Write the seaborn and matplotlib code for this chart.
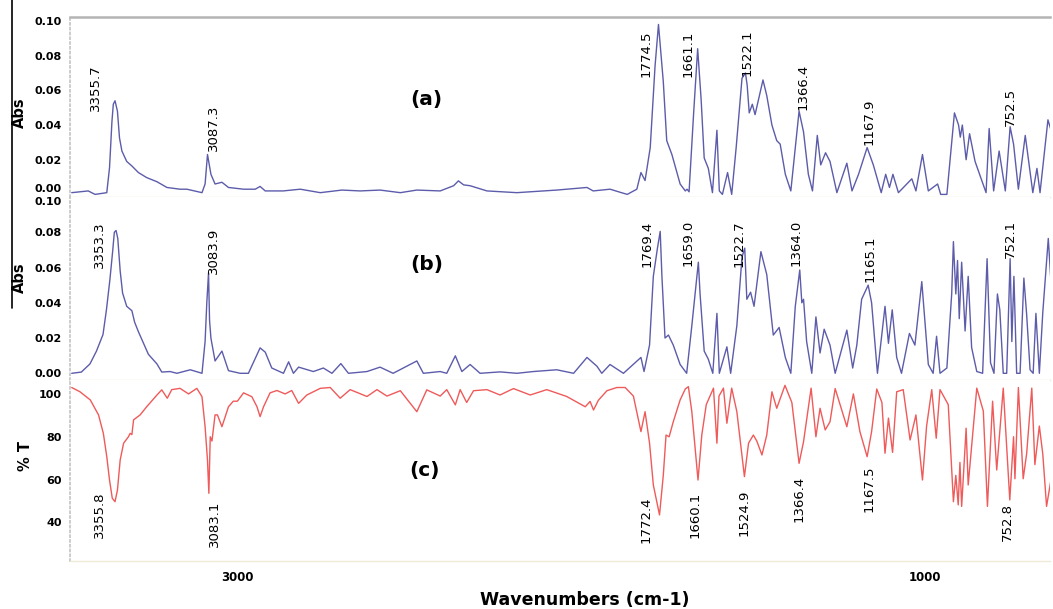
import matplotlib
matplotlib.use("Agg")
import matplotlib.pyplot as plt
from matplotlib.lines import Line2D
from matplotlib.ticker import MultipleLocator
import seaborn as sns

# spectra (wavenumber in cm-1)
wn_a = [3482, 3434, 3414, 3380, 3372, 3365, 3361, 3356, 3349, 3343, 3336, 3322, 3307, 3288, 3264,
        3234, 3205, 3167, 3147, 3103, 3094, 3087, 3077, 3065, 3045, 3026, 2982, 2948, 2934, 2919,
        2867, 2817, 2759, 2696, 2643, 2585, 2526, 2478, 2410, 2371, 2357, 2342, 2323, 2274, 2187,
        2071, 1983, 1965, 1916, 1866, 1838, 1826, 1814, 1799, 1785, 1775, 1761, 1751, 1736, 1712,
        1697, 1692, 1686, 1673, 1661, 1651, 1642, 1630, 1618, 1605, 1598, 1589, 1574, 1562, 1549,
        1532, 1522, 1517, 1511, 1502, 1494, 1471, 1460, 1445, 1431, 1421, 1406, 1390, 1377, 1366,
        1353, 1339, 1327, 1313, 1303, 1289, 1276, 1256, 1227, 1212, 1193, 1168, 1150, 1127, 1114,
        1103, 1093, 1077, 1038, 1026, 1007, 990, 963, 954, 936, 914, 902, 897, 891, 880,
        870, 854, 822, 813, 800, 784, 766, 752, 742, 728, 708, 686, 674, 665, 642, 630]
abs_a = [0.001, 0.002, 0.000, 0.001, 0.0154, 0.042, 0.052, 0.054, 0.048, 0.0326, 0.025, 0.019, 0.0164, 0.0126, 0.0097,
         0.0073, 0.004, 0.003, 0.003, 0.001, 0.006, 0.023, 0.0116, 0.006, 0.007, 0.004, 0.003, 0.003, 0.0046, 0.002,
         0.002, 0.003, 0.001, 0.0025, 0.002, 0.0025, 0.001, 0.0025, 0.002, 0.005, 0.0078, 0.0055, 0.005, 0.002, 0.001,
         0.0025, 0.004, 0.002, 0.003, 0.000, 0.003, 0.0126, 0.008, 0.027, 0.074, 0.098, 0.065, 0.031, 0.023, 0.006,
         0.002, 0.003, 0.0015, 0.046, 0.084, 0.055, 0.021, 0.015, 0.001, 0.037, 0.002, 0.000, 0.0126, 0.000, 0.027,
         0.067, 0.070, 0.063, 0.047, 0.052, 0.046, 0.066, 0.057, 0.040, 0.031, 0.029, 0.0116, 0.002, 0.027, 0.048,
         0.036, 0.0116, 0.002, 0.034, 0.017, 0.024, 0.019, 0.001, 0.018, 0.002, 0.0116, 0.027, 0.017, 0.001, 0.0116,
         0.004, 0.0116, 0.001, 0.009, 0.002, 0.023, 0.002, 0.006, 0.000, 0.000, 0.047, 0.040, 0.033, 0.040, 0.020,
         0.035, 0.019, 0.001, 0.038, 0.002, 0.025, 0.002, 0.039, 0.029, 0.003, 0.034, 0.001, 0.015, 0.001, 0.043, 0.035]

wn_b = [3482, 3454, 3429, 3410, 3391, 3381, 3371, 3363, 3358, 3353, 3348, 3341, 3334, 3322, 3307,
        3299, 3288, 3273, 3259, 3234, 3220, 3196, 3176, 3137, 3103, 3094, 3089, 3084, 3081, 3077,
        3065, 3045, 3026, 2992, 2968, 2934, 2919, 2900, 2866, 2851, 2837, 2822, 2779, 2750, 2725,
        2699, 2677, 2623, 2585, 2547, 2478, 2459, 2410, 2391, 2366, 2347, 2323, 2294, 2236, 2187,
        2139, 2071, 2022, 1983, 1954, 1940, 1916, 1877, 1826, 1817, 1801, 1790, 1778, 1770, 1765,
        1756, 1746, 1732, 1712, 1693, 1678, 1659, 1654, 1642, 1630, 1617, 1605, 1598, 1576, 1565,
        1547, 1532, 1524, 1518, 1507, 1497, 1477, 1460, 1441, 1424, 1406, 1390, 1377, 1364, 1358,
        1353, 1344, 1329, 1317, 1305, 1293, 1276, 1261, 1227, 1210, 1198, 1184, 1165, 1155, 1138,
        1116, 1106, 1095, 1082, 1068, 1045, 1029, 1009, 990, 976, 966, 956, 936, 922, 917,
        910, 905, 900, 893, 883, 874, 864, 849, 832, 819, 809, 799, 789, 782, 772,
        762, 752, 747, 741, 733, 723, 712, 704, 694, 685, 677, 667, 657, 641, 631]
abs_b = [0.000, 0.0007, 0.0053, 0.0126, 0.022, 0.036, 0.053, 0.069, 0.080, 0.081, 0.0765, 0.058, 0.0455, 0.038, 0.0355,
         0.029, 0.0236, 0.017, 0.0108, 0.0053, 0.0007, 0.001, 0.000, 0.002, 0.000, 0.018, 0.040, 0.057, 0.030, 0.0199,
         0.007, 0.0126, 0.0015, 0.000, 0.000, 0.0144, 0.012, 0.003, 0.000, 0.0065, 0.000, 0.0035, 0.001, 0.003, 0.000,
         0.0055, 0.000, 0.001, 0.0035, 0.000, 0.007, 0.000, 0.001, 0.000, 0.0099, 0.001, 0.005, 0.000, 0.0008, 0.000,
         0.001, 0.002, 0.000, 0.009, 0.004, 0.000, 0.005, 0.000, 0.009, 0.001, 0.016, 0.055, 0.071, 0.0805, 0.055,
         0.020, 0.0217, 0.016, 0.005, 0.000, 0.027, 0.063, 0.045, 0.0126, 0.008, 0.000, 0.034, 0.000, 0.015, 0.000,
         0.027, 0.066, 0.071, 0.042, 0.046, 0.038, 0.069, 0.056, 0.0217, 0.026, 0.009, 0.000, 0.038, 0.0586, 0.040,
         0.042, 0.018, 0.000, 0.032, 0.0115, 0.025, 0.016, 0.000, 0.0245, 0.003, 0.016, 0.042, 0.050, 0.040, 0.000,
         0.038, 0.017, 0.036, 0.009, 0.000, 0.0226, 0.016, 0.052, 0.005, 0.000, 0.021, 0.000, 0.003, 0.045, 0.0747,
         0.045, 0.064, 0.031, 0.063, 0.024, 0.055, 0.0146, 0.001, 0.000, 0.065, 0.006, 0.000, 0.045, 0.036, 0.000,
         0.000, 0.065, 0.018, 0.055, 0.000, 0.000, 0.054, 0.0335, 0.002, 0.000, 0.034, 0.000, 0.0345, 0.0765, 0.045]

wn_c = [3482, 3458, 3428, 3404, 3390, 3380, 3372, 3364, 3356, 3349, 3341, 3331, 3317, 3312, 3307,
        3302, 3283, 3264, 3234, 3220, 3204, 3191, 3167, 3142, 3118, 3103, 3094, 3087, 3083, 3079,
        3074, 3065, 3058, 3045, 3026, 3012, 3000, 2982, 2958, 2943, 2934, 2924, 2905, 2885, 2861,
        2842, 2822, 2798, 2759, 2730, 2701, 2672, 2623, 2594, 2565, 2526, 2478, 2449, 2410, 2391,
        2366, 2352, 2333, 2313, 2274, 2236, 2197, 2148, 2100, 2042, 1988, 1974, 1964, 1950, 1925,
        1896, 1872, 1848, 1826, 1814, 1801, 1790, 1772, 1761, 1753, 1744, 1732, 1712, 1697, 1688,
        1678, 1660, 1649, 1636, 1625, 1615, 1605, 1599, 1586, 1576, 1562, 1547, 1525, 1513, 1499,
        1489, 1474, 1460, 1445, 1431, 1407, 1387, 1366, 1353, 1331, 1317, 1305, 1290, 1276, 1261,
        1227, 1208, 1189, 1168, 1155, 1140, 1125, 1116, 1106, 1094, 1082, 1063, 1043, 1026, 1007,
        995, 980, 967, 956, 932, 917, 910, 903, 898, 893, 880, 874, 849, 830, 818,
        803, 791, 772, 753, 742, 738, 728, 714, 704, 689, 680, 667, 657, 646, 631]
trans_c = [103, 101, 97.2, 90.2, 81.6, 70.7, 59.8, 51.3, 49.7, 55.1, 69.2, 77, 80, 81.6, 81,
           87.9, 90.2, 94, 99.5, 101.9, 98, 102, 102.6, 100, 102.6, 98.7, 84.7, 69, 53.6, 80,
           78, 90.2, 90.2, 84.7, 94, 96.6, 96.6, 100.5, 98.7, 94, 89.4, 94, 100.5, 101.6, 100,
           101.6, 95.6, 99.5, 102.6, 103, 98, 102, 98.8, 102, 99, 101.5, 91.7, 101.9, 99, 102,
           94.9, 102, 96, 101.5, 102, 99.5, 102.5, 99.5, 102, 98.8, 94, 96.5, 92.5, 97, 101.5,
           103, 103, 99, 82.4, 91.7, 77, 57.5, 43.5, 62, 80.8, 80, 87, 97.2, 102.3, 103.4,
           91.7, 59.8, 80.8, 95, 99, 102.7, 77, 99, 102.7, 86.3, 102.7, 91.7, 61.4, 77, 80.8,
           78, 71.5, 80.8, 101, 93.3, 104, 96, 67.6, 77.7, 102.7, 80, 93.3, 83.2, 87, 102.5,
           84.7, 100, 82.4, 70.7, 82.4, 102.3, 96, 72.3, 88.7, 72.7, 101, 102, 78.5, 90.2, 59.8,
           85, 102, 79.3, 102, 95, 49.7, 62, 48.2, 68, 47.5, 84, 57.5, 102.7, 92, 47.5,
           96.6, 64.5, 102.7, 50.5, 80, 60.4, 103, 60.4, 72, 102.7, 67, 85, 72, 47.5, 62]

# peak labels
labels_a = ["3355.7", "3087.3", "1774.5", "1661.1", "1522.1", "1366.4", "1167.9", "752.5"]
peaks_a = [3356, 3087, 1775, 1661, 1522, 1366, 1168, 752]
labels_b = ["3353.3", "3083.9", "1769.4", "1659.0", "1522.7", "1364.0", "1165.1", "752.1"]
peaks_b = [3353, 3084, 1770, 1659, 1524, 1364, 1165, 752]
labels_c = ["3355.8", "3083.1", "1772.4", "1660.1", "1524.9", "1366.4", "1167.5", "752.8"]
peaks_c = [3356, 3083, 1772, 1660, 1525, 1366, 1168, 753]

# label offsets from the peak tip, in pixels
off_a = [(-20, -10), (6, 4), (-12, -53), (-10, -28), (2, -3), (4, 1), (2, 3), (0, 1)]
off_b = [(-17, -38), (5, -1), (-13, -36), (-10, -4), (-6, -19), (-4, 4), (2, 3), (0, 1)]
off_c = [(-16, 10), (6, -7), (-13, 18), (-3, -12), (0, -13), (0, -12), (2, -9), (-2, -3)]

sns.set_style("white")
plt.rcParams['font.family'] = ['DejaVu Sans']
plt.rcParams['text.color'] = 'black'
plt.rcParams['axes.labelcolor'] = 'black'
plt.rcParams['xtick.labelcolor'] = 'black'
plt.rcParams['ytick.labelcolor'] = 'black'

BLUE = '#5c5cab'
RED = '#ef5a5a'
W, H = 1053, 609


def rect(l, t, r, b):
    return [l / W, 1 - b / H, (r - l) / W, (b - t) / H]


fig = plt.figure(figsize=(W / 100, H / 100), dpi=100)
ax_a = fig.add_axes(rect(70, 17, 1050, 197))
ax_b = fig.add_axes(rect(70, 197, 1050, 380))
ax_c = fig.add_axes(rect(70, 380, 1050, 561))

sns.lineplot(x=wn_a, y=abs_a, ax=ax_a, color=BLUE, linewidth=1.0, sort=False, estimator=None)
sns.lineplot(x=wn_b, y=abs_b, ax=ax_b, color=BLUE, linewidth=1.0, sort=False, estimator=None)
sns.lineplot(x=wn_c, y=trans_c, ax=ax_c, color=RED, linewidth=1.0, sort=False, estimator=None)

ax_a.set_ylim(-0.0015, 0.1023)
ax_b.set_ylim(-0.0038, 0.100)
ax_c.set_ylim(22.0, 106.5)

for ax in (ax_a, ax_b, ax_c):
    ax.set_xlim(3487, 636)
    ax.set_facecolor('white')
    ax.spines['right'].set_visible(False)
    ax.spines['top'].set_visible(False)
    ax.spines['left'].set_color('#c8c8c8')
    ax.spines['left'].set_linestyle(':')
    ax.spines['left'].set_linewidth(1.3)
    ax.spines['bottom'].set_color('#eeead6')
    ax.spines['bottom'].set_linewidth(1.0)
    ax.tick_params(axis='y', which='major', length=3, width=0.9, color='#999999',
                   labelsize=8, pad=3, direction='out')
    ax.tick_params(axis='y', which='minor', length=1.5, width=1.0, color='#bbbbbb', direction='out')
    ax.set_ylabel("")
    ax.set_xlabel("")

ax_a.spines['top'].set_visible(True)
ax_a.spines['top'].set_color('#b4b4b4')
ax_a.spines['top'].set_linewidth(1.8)

for ax in (ax_a, ax_b):
    ax.set_yticks([0.0, 0.02, 0.04, 0.06, 0.08, 0.10])
    ax.set_yticklabels(["0.00", "0.02", "0.04", "0.06", "0.08", "0.10"])
    ax.yaxis.set_minor_locator(MultipleLocator(0.005))
    ax.set_xticks([])
    ax.tick_params(axis='x', which='both', bottom=False, labelbottom=False)

ax_c.set_yticks([40, 60, 80, 100])
ax_c.set_yticklabels(["40", "60", "80", "100"])
ax_c.yaxis.set_minor_locator(MultipleLocator(5))
ax_c.set_xticks([3000, 1000])
ax_c.set_xticklabels(["3000", "1000"])
ax_c.xaxis.set_minor_locator(MultipleLocator(100))
ax_c.tick_params(axis='x', which='major', length=2.5, width=1.6, color='#888888',
                 labelsize=8.5, pad=6, direction='inout')
ax_c.tick_params(axis='x', which='minor', length=2, width=1.4, color='#aaaaaa', direction='inout')

for ax in (ax_a, ax_b, ax_c):
    for lab in ax.get_yticklabels() + ax.get_xticklabels():
        lab.set_fontweight('bold')
        lab.set_color('black')

# keep the touching 0.00 / 0.10 labels apart
ax_a.get_yticklabels()[0].set_va('bottom')
ax_b.get_yticklabels()[-1].set_va('top')

ax_a.set_ylabel("Abs", fontsize=10.5, fontweight='bold', color='black')
ax_a.yaxis.set_label_coords(-0.044, 0.47)
ax_b.set_ylabel("Abs", fontsize=10.5, fontweight='bold', color='black')
ax_b.yaxis.set_label_coords(-0.044, 0.56)
ax_c.set_ylabel("% T", fontsize=10.5, fontweight='bold', color='black')
ax_c.yaxis.set_label_coords(-0.038, 0.58)
ax_c.set_xlabel("Wavenumbers (cm-1)", fontsize=12.5, fontweight='bold', color='black')
ax_c.xaxis.set_label_coords(0.5255, -0.165)

ax_a.text(0.364, 0.54, "(a)", transform=ax_a.transAxes, fontsize=14.5, fontweight='bold',
          ha='center', va='center', color='black')
ax_b.text(0.364, 0.63, "(b)", transform=ax_b.transAxes, fontsize=14.5, fontweight='bold',
          ha='center', va='center', color='black')
ax_c.text(0.362, 0.50, "(c)", transform=ax_c.transAxes, fontsize=14.5, fontweight='bold',
          ha='center', va='center', color='black')


def label_peaks(ax, wn, vals, texts, peaks, offsets, below=False):
    lookup = dict(zip(wn, vals))
    for t, p, (ox, oy) in zip(texts, peaks, offsets):
        ax.annotate(t, xy=(p, lookup[p]), xytext=(ox * 0.72, oy * 0.72),
                    textcoords='offset points', rotation=90, ha='center',
                    va='top' if below else 'bottom', fontsize=9.5, color='black',
                    annotation_clip=False)


label_peaks(ax_a, wn_a, abs_a, labels_a, peaks_a, off_a)
label_peaks(ax_b, wn_b, abs_b, labels_b, peaks_b, off_b)
label_peaks(ax_c, wn_c, trans_c, labels_c, peaks_c, off_c, below=True)

# stray black rule at the left edge of the original figure
fig.add_artist(Line2D([12 / W, 12 / W], [1.0, 1 - 308 / H], color='black', linewidth=1.2))

fig.savefig("out.png", dpi=100)
